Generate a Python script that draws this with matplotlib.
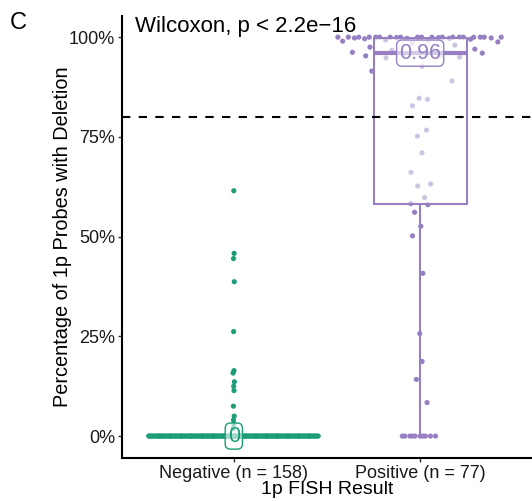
import numpy as np
import matplotlib
matplotlib.use("Agg")
import matplotlib.pyplot as plt
from matplotlib.ticker import PercentFormatter

plt.rcParams["font.family"] = ["Liberation Sans", "DejaVu Sans"]

# ---- data (fraction of 1p probes with deletion) ----
groups = ["Negative (n = 158)", "Positive (n = 77)"]
colors = ["#1b9e77", "#9680c2"]

neg_nonzero = [0.615, 0.458, 0.445, 0.387, 0.262, 0.164, 0.158, 0.136,
               0.125, 0.114, 0.075, 0.050, 0.040, 0.030, 0.019]
negative = [0.0] * 143 + neg_nonzero

pos_low = [0.0] * 10 + [0.084, 0.142, 0.187, 0.257, 0.408, 0.502, 0.526,
                        0.561, 0.580, 0.583]
pos_mid = [0.598, 0.627, 0.632, 0.661, 0.710, 0.752, 0.767, 0.828, 0.844,
           0.847, 0.890, 0.915, 0.927]
pos_high = [0.948, 0.950, 0.953, 0.955, 0.957, 0.960, 0.962, 0.965, 0.967,
            0.970, 0.975, 0.980, 0.985, 0.988, 0.990, 0.992, 0.993, 0.995,
            0.996, 0.997, 0.997, 0.998, 0.998, 0.999, 0.999] + [1.0] * 19
positive = pos_low + pos_mid + pos_high

cutoff = 0.80
test_label = "Wilcoxon, p < 2.2e\u221216"


def vdc(n, base=2):
    out = []
    for i in range(1, n + 1):
        q, denom, x = i, 1, 0.0
        while q:
            denom *= base
            q, r = divmod(q, base)
            x += r / denom
        out.append(x)
    return np.array(out)


def quasi_offsets(vals, width, bw):
    # quasirandom (beeswarm-like) horizontal spread scaled by local density
    v = np.asarray(vals, dtype=float)
    d = np.exp(-0.5 * ((v[:, None] - v[None, :]) / bw) ** 2).sum(1)
    d = d / d.max()
    order = np.argsort(v, kind="stable")
    offs = np.empty(len(v))
    offs[order] = (2 * vdc(len(v)) - 1) * width * d[order]
    return offs


fig = plt.figure(figsize=(5.32, 5.01), dpi=100)
ax = fig.add_axes([0.2293, 0.0858, 0.7707, 0.8822])

data = [negative, positive]
bws = [0.005, 0.06]
for i, (vals, col) in enumerate(zip(data, colors)):
    xs = i + 1 + quasi_offsets(vals, 0.46, bws[i])
    ax.scatter(xs, vals, s=14, color=col, edgecolors="none", zorder=2)

bp = ax.boxplot(data, positions=[1, 2], widths=0.5, showfliers=False,
                showcaps=False, patch_artist=True, zorder=3)
for i, col in enumerate(colors):
    bp["boxes"][i].set(facecolor=(1, 1, 1, 0.55), edgecolor=col, linewidth=1.5)
    bp["medians"][i].set(color=col, linewidth=3)
    for w in bp["whiskers"][2 * i:2 * i + 2]:
        w.set(color=col, linewidth=1.5)

for i, (vals, col) in enumerate(zip(data, colors)):
    med = np.median(vals)
    ax.text(i + 1, med, f"{round(med, 2):g}", color=col, fontsize=15.5,
            ha="center", va="center", zorder=6,
            bbox=dict(boxstyle="round,pad=0.12,rounding_size=0.25",
                      fc=(1, 1, 1, 0.6), ec=col, lw=1))

ax.axhline(cutoff, color="black", lw=1.5, ls=(0, (4, 4)), zorder=5)

ax.text(0.47, 1.026, test_label, fontsize=16, ha="left", va="center")
fig.text(0.019, 0.955, "C", fontsize=17, ha="left", va="center")

ax.set_xlim(0.4, 2.6)
ax.set_ylim(-0.055, 1.053)
ax.set_xticks([1, 2])
ax.set_xticklabels(groups)
ax.set_yticks([0, 0.25, 0.5, 0.75, 1.0])
ax.yaxis.set_major_formatter(PercentFormatter(xmax=1, decimals=0))
ax.tick_params(length=3, width=1, color="#333333", labelsize=13, pad=2,
               labelcolor="#1a1a1a")

ax.set_ylabel("Percentage of 1p Probes with Deletion", fontsize=14.3)
ax.yaxis.set_label_coords(-0.146, 0.5)
ax.yaxis.label.set_va("center")
ax.set_xlabel("1p FISH Result", fontsize=14)
ax.xaxis.set_label_coords(0.5, -0.071)
ax.xaxis.label.set_va("center")

for s in ["top", "right"]:
    ax.spines[s].set_visible(False)
for s in ["left", "bottom"]:
    ax.spines[s].set_linewidth(1.5)

fig.savefig("out.png", dpi=100)
